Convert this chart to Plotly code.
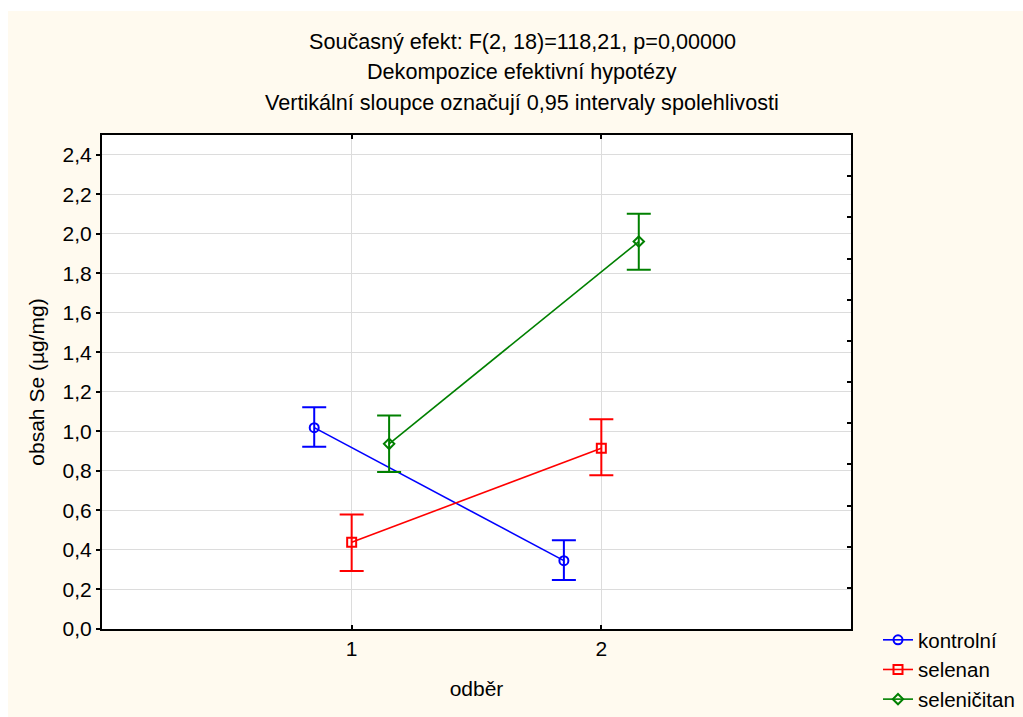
import plotly.graph_objects as go

# ---- data ----
odber = [1, 2]
series_names = ["kontrolní", "selenan", "seleničitan"]
offsets = [-0.15, 0.0, 0.15]
means = {
    "kontrolní": [1.019, 0.346],
    "selenan": [0.439, 0.915],
    "seleničitan": [0.937, 1.961],
}
upper = {
    "kontrolní": [1.122, 0.449],
    "selenan": [0.579, 1.062],
    "seleničitan": [1.080, 2.101],
}
lower = {
    "kontrolní": [0.922, 0.248],
    "selenan": [0.294, 0.778],
    "seleničitan": [0.795, 1.818],
}
colors = {"kontrolní": "#0000FF", "selenan": "#FF0000", "seleničitan": "#008000"}
symbols = {"kontrolní": "circle-open", "selenan": "square-open", "seleničitan": "diamond-open"}
msizes = {"kontrolní": 9, "selenan": 9, "seleničitan": 8}

title_lines = [
    "Současný efekt: F(2, 18)=118,21, p=0,00000",
    "Dekompozice efektivní hypotézy",
    "Vertikální sloupce označují 0,95 intervaly spolehlivosti",
]
y_ticks = [0.0, 0.2, 0.4, 0.6, 0.8, 1.0, 1.2, 1.4, 1.6, 1.8, 2.0, 2.2, 2.4]
y_tick_labels = [f"{v:.1f}".replace(".", ",") for v in y_ticks]

FONT = "Liberation Sans, Arial, sans-serif"
FS = 21

fig = go.Figure()
for name, off in zip(series_names, offsets):
    xs = [o + off for o in odber]
    m = means[name]
    up = [u - v for u, v in zip(upper[name], m)]
    dn = [v - l for l, v in zip(lower[name], m)]
    fig.add_trace(go.Scatter(
        x=xs, y=m, name=name, mode="lines+markers",
        line=dict(color=colors[name], width=1.6),
        marker=dict(symbol=symbols[name], size=msizes[name], color=colors[name],
                    line=dict(width=2, color=colors[name])),
        error_y=dict(type="data", symmetric=False, array=up, arrayminus=dn,
                     color=colors[name], thickness=2, width=12),
    ))

# invisible trace to activate secondary axes (frame ticks)
fig.add_trace(go.Scatter(x=[None], y=[None], xaxis="x2", yaxis="y2",
                         showlegend=False, hoverinfo="skip"))

L, R, T, B = 102, 1023 - 851, 135, 717 - 629
W, H = 1023, 717
pw, ph = W - L - R, H - T - B

def px2x(p):
    return (p - L) / pw

def py2y(p):
    return (H - B - p) / ph

shapes = [
    dict(type="rect", xref="paper", yref="paper", x0=px2x(0), x1=px2x(W),
         y0=py2y(11), y1=py2y(0), fillcolor="white", line=dict(width=0), layer="below"),
    dict(type="rect", xref="paper", yref="paper", x0=px2x(0), x1=px2x(8),
         y0=py2y(H), y1=py2y(0), fillcolor="white", line=dict(width=0), layer="below"),
]

annotations = []
for txt, yc in zip(title_lines, [42, 72, 102]):
    annotations.append(dict(text=txt, xref="paper", yref="paper", x=px2x(522), y=py2y(yc),
                            xanchor="center", yanchor="middle", showarrow=False,
                            font=dict(family=FONT, size=21.6, color="black")))

fig.update_layout(
    width=W, height=H,
    margin=dict(l=L, r=R, t=T, b=B, pad=0, autoexpand=False),
    paper_bgcolor="#FFFAEF",
    plot_bgcolor="white",
    font=dict(family=FONT, size=FS, color="black"),
    showlegend=True,
    legend=dict(x=px2x(878), y=py2y(620), xanchor="left", yanchor="top",
                bgcolor="rgba(0,0,0,0)", font=dict(family=FONT, size=20.5),
                tracegroupgap=0, itemwidth=30),
    shapes=shapes,
    annotations=annotations,
    xaxis=dict(range=[0, 3], tickvals=odber, ticktext=[str(o) for o in odber],
               showgrid=True, gridcolor="#DCDCDC", gridwidth=1,
               showline=True, linecolor="black", linewidth=2, mirror=True,
               ticks="inside", ticklen=4, tickcolor="black", tickwidth=2,
               zeroline=False, automargin=False,
               title=dict(text="odběr", font=dict(family=FONT, size=FS), standoff=22)),
    yaxis=dict(range=[0, 2.5], tickvals=y_ticks, ticktext=y_tick_labels,
               showgrid=True, gridcolor="#DCDCDC", gridwidth=1,
               showline=True, linecolor="black", linewidth=2, mirror=True,
               ticks="outside", ticklen=4, tickcolor="black", tickwidth=2,
               zeroline=False, automargin=False,
               title=dict(text="obsah Se (µg/mg)", font=dict(family=FONT, size=FS), standoff=12)),
    xaxis2=dict(range=[0, 3], overlaying="x", side="top", tickvals=odber,
                showticklabels=False, ticks="inside", ticklen=4, tickcolor="black",
                tickwidth=2, showgrid=False, zeroline=False, showline=False),
    yaxis2=dict(range=[0, 12], overlaying="y", side="right", dtick=1, tick0=0,
                showticklabels=False, ticks="inside", ticklen=4, tickcolor="black",
                tickwidth=2, showgrid=False, zeroline=False, showline=False),
)

fig.write_html("out.html")
